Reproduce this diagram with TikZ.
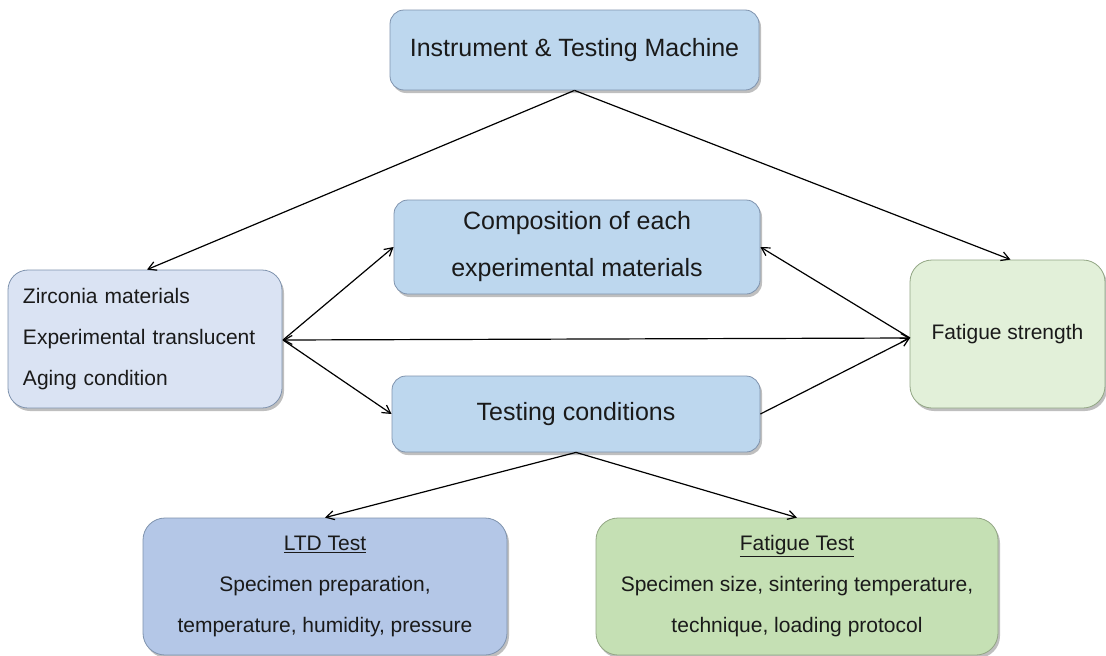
\documentclass[tikz,border=0pt]{standalone}
\usepackage{fontspec}
\setmainfont{Liberation Sans}
\usetikzlibrary{arrows.meta,shadows,calc}
\definecolor{boxblue}{HTML}{BDD7EE}
\definecolor{boxlav}{HTML}{DAE3F3}
\definecolor{boxltd}{HTML}{B4C7E7}
\definecolor{boxgreen}{HTML}{C5E0B4}
\definecolor{boxlgreen}{HTML}{E2F0D9}
\definecolor{edgeblue}{HTML}{7F93AE}
\definecolor{edgegreen}{HTML}{92A684}
\definecolor{txt}{HTML}{1A1A1A}
\tikzset{
  box/.style={draw=edgeblue, line width=0.8pt, rounded corners=14pt, align=center,
    text=txt, inner sep=0pt,
    drop shadow={shadow xshift=2pt, shadow yshift=-3pt, fill=black, opacity=0.25}},
  bigfont/.style={font=\fontsize{25}{47}\selectfont},
  smallfont/.style={font=\fontsize{21}{41}\selectfont},
  conn/.style={line width=1.2pt, -{Straight Barb[length=8pt,width=9pt]}},
  bconn/.style={line width=1.2pt, {Straight Barb[length=8pt,width=9pt]}-{Straight Barb[length=8pt,width=9pt]}}
}
\begin{document}
\begin{tikzpicture}[x=1pt,y=-1pt]
\useasboundingbox[fill=white] (0,0) rectangle (1106,656);
\node[box, bigfont, fill=boxblue, minimum width=369pt, minimum height=80pt] (top) at (574.5,50) {Instrument \& Testing Machine};
\node[box, bigfont, fill=boxblue, minimum width=366pt, minimum height=94pt] (comp) at (577,247) {Composition of each\\experimental materials};
\node[box, bigfont, fill=boxblue, minimum width=368pt, minimum height=76pt] (test) at (576,414) {Testing conditions};
\node[box, smallfont, fill=boxlav, minimum width=274pt, minimum height=138pt, rounded corners=20pt, text width=244pt, align=left, inner xsep=15pt] (left) at (145,339) {Zirconia materials\\Experimental translucent\\Aging condition};
\node[box, smallfont, draw=edgegreen, fill=boxlgreen, minimum width=195pt, minimum height=148pt, rounded corners=22pt] (fs) at (1007.5,334) {Fatigue strength};
\node[box, smallfont, fill=boxltd, minimum width=364pt, minimum height=137pt, rounded corners=22pt] (ltd) at (325,586.5) {\underline{LTD Test}\\Specimen preparation,\\temperature, humidity, pressure};
\node[box, smallfont, draw=edgegreen, fill=boxgreen, minimum width=402pt, minimum height=137pt, rounded corners=22pt] (ft) at (797,586.5) {\underline{Fatigue Test}\\Specimen size, sintering temperature,\\technique, loading protocol};
\coordinate (ls) at (283,340);
\coordinate (fw) at (910,338);
\draw[conn] (top.south) -- ($(left.north)+(2,0)$);
\draw[conn] (top.south) -- ($(fs.north)+(3,0)$);
\draw[conn] (ls) -- (comp.west);
\draw[conn] (ls) -- (test.west);
\draw[bconn] (ls) -- (fw);
\draw[conn] (fw) -- (comp.east);
\draw[conn] (test.east) -- (fw);
\draw[conn] (test.south) -- (ltd.north);
\draw[conn] (test.south) -- (ft.north);
\end{tikzpicture}
\end{document}
